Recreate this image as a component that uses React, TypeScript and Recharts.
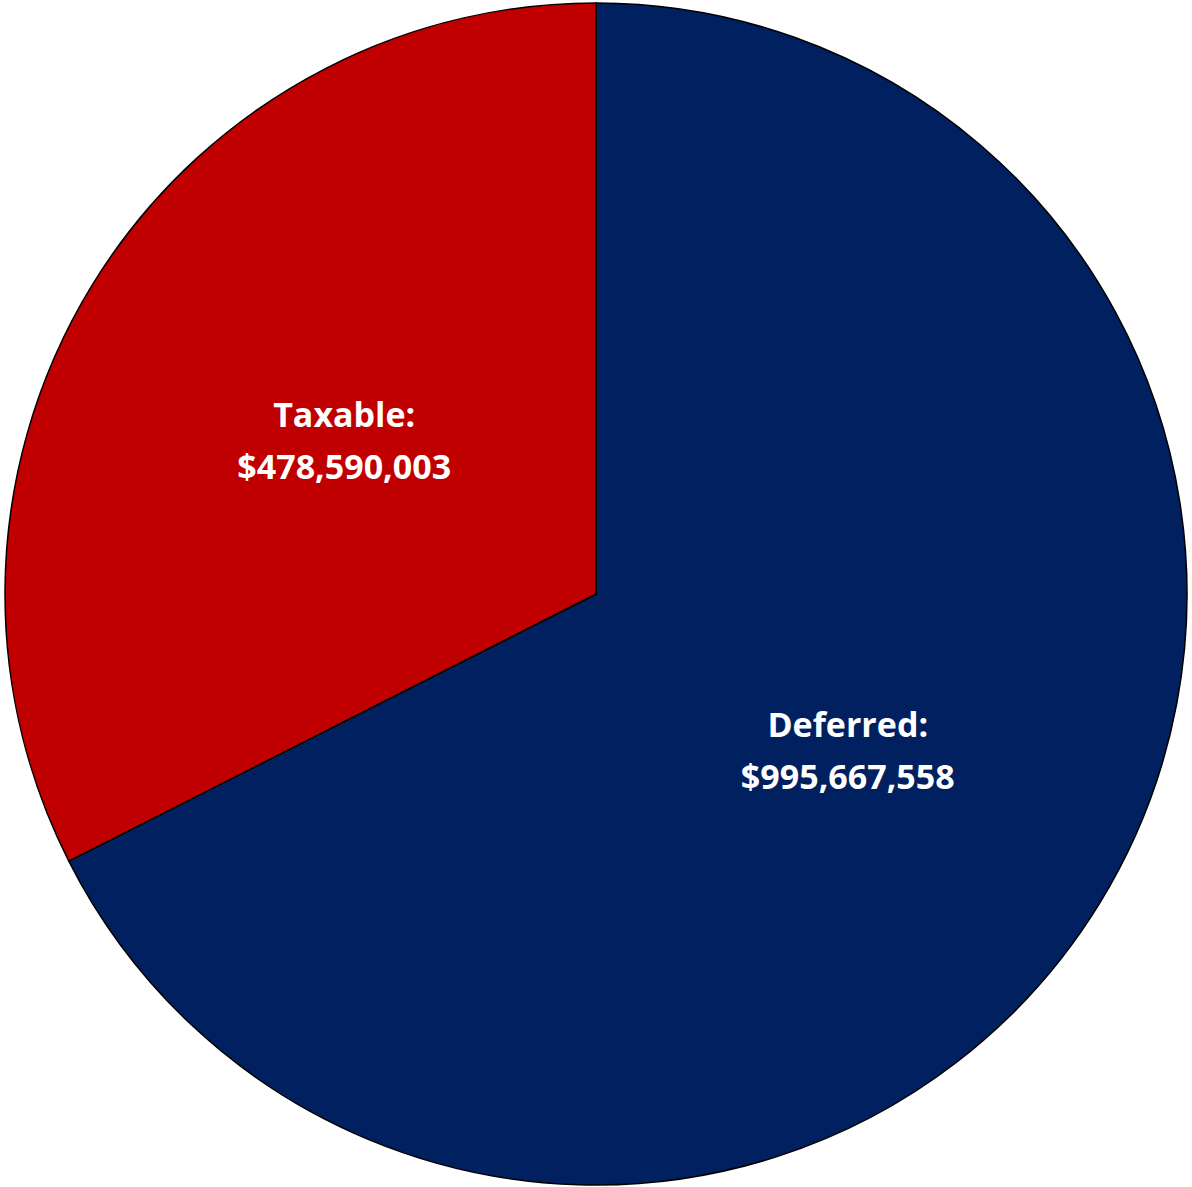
import React from 'react';
import { PieChart, Pie, Cell } from 'recharts';

const categories = ['Deferred', 'Taxable'];
const amounts = [995667558, 478590003];
const colors = ['#002060', '#C00000'];

const data = categories.map((name, i) => ({ name, value: amounts[i] }));

const RAD = Math.PI / 180;

const renderLabel = (props: any) => {
    const { cx, cy, midAngle, outerRadius, name, value } = props;
    const r = outerRadius * 0.5;
    const x = cx + r * Math.cos(-midAngle * RAD);
    const y = cy + r * Math.sin(-midAngle * RAD);
    return (
        <text
            x={x}
            y={y}
            textAnchor="middle"
            fill="#ffffff"
            fontFamily="'Open Sans', sans-serif"
            fontWeight="bold"
            fontSize={34}
        >
            <tspan x={x} dy={-12}>{name}:</tspan>
            <tspan x={x} dy={52}>${value.toLocaleString('en-US')}</tspan>
        </text>
    );
};

export default function App() {
    return (
        <div style={{ position: 'absolute', left: 0, top: 0, width: 1192, height: 1187, background: '#ffffff' }}>
            <PieChart width={1192} height={1187} margin={{ top: 0, right: 0, bottom: 0, left: 0 }}>
                <Pie
                    data={data}
                    dataKey="value"
                    nameKey="name"
                    cx={596}
                    cy={594}
                    outerRadius={591}
                    startAngle={90}
                    endAngle={-270}
                    stroke="#000000"
                    strokeWidth={1.5}
                    label={renderLabel}
                    labelLine={false}
                    isAnimationActive={false}
                >
                    {data.map((d, i) => (
                        <Cell key={d.name} fill={colors[i]} />
                    ))}
                </Pie>
            </PieChart>
        </div>
    );
}
